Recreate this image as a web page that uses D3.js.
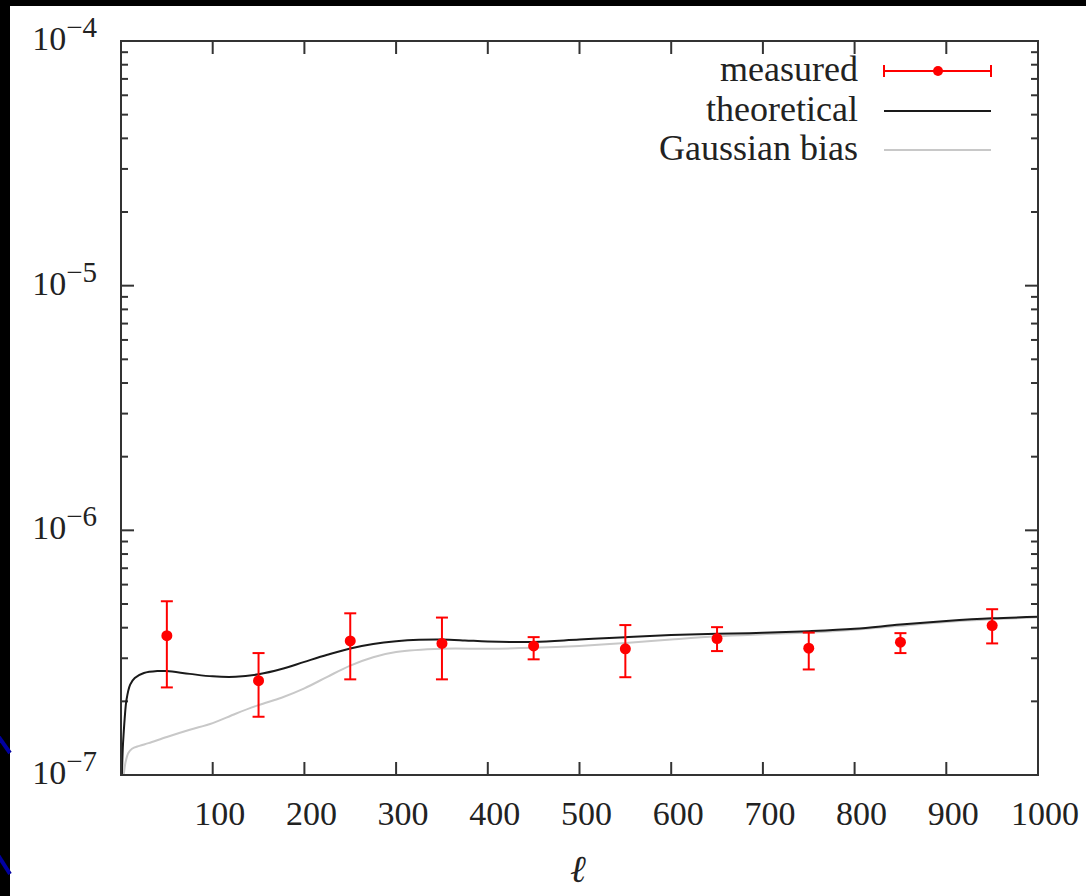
<!DOCTYPE html>
<html>
<head>
<meta charset="utf-8">
<script src="https://cdn.jsdelivr.net/npm/d3@7"></script>
<style>
  html, body { margin: 0; padding: 0; background: #000; }
  svg { display: block; }
  svg text { font-family: 'Liberation Serif', 'DejaVu Serif', serif; fill: #222; }
</style>
</head>
<body>
<svg id="chart" width="1086" height="896"></svg>
<script>
// measured points (bin centres in ell)
const ells = [50, 150, 250, 350, 450, 550, 650, 750, 850, 950]
const measured = [3.71e-7, 2.43e-7, 3.53e-7, 3.45e-7, 3.37e-7, 3.28e-7, 3.61e-7, 3.30e-7, 3.49e-7, 4.08e-7]
const errLow = [2.28e-7, 1.73e-7, 2.46e-7, 2.46e-7, 2.97e-7, 2.51e-7, 3.21e-7, 2.70e-7, 3.15e-7, 3.45e-7]
const errHigh = [5.13e-7, 3.15e-7, 4.58e-7, 4.40e-7, 3.66e-7, 4.10e-7, 4.02e-7, 3.82e-7, 3.80e-7, 4.76e-7]

// theoretical curve
const theoEll = [1, 2, 3, 4, 6, 10, 15, 25, 40, 50, 75, 100, 125, 150, 175, 200, 225, 250, 275, 300, 325, 350, 375, 400, 450, 500, 550, 600, 650, 700, 750, 800, 850, 900, 950, 1000]
const theoVal = [1.0, 1.3, 1.5, 1.7, 2.03, 2.34, 2.49, 2.61, 2.66, 2.66, 2.59, 2.53, 2.52, 2.58, 2.71, 2.90, 3.10, 3.29, 3.43, 3.52, 3.57, 3.58, 3.55, 3.51, 3.50, 3.58, 3.66, 3.73, 3.78, 3.81, 3.87, 3.96, 4.12, 4.26, 4.37, 4.43].map(v => v * 1e-7)

// Gaussian bias curve
const gaussEll = [3, 5, 8, 12, 20, 30, 50, 75, 100, 125, 150, 175, 200, 225, 250, 275, 300, 350, 400, 450, 500, 550, 600, 650, 700, 750, 800, 850, 900, 950, 1000]
const gaussVal = [1.0, 1.13, 1.23, 1.28, 1.315, 1.35, 1.43, 1.53, 1.63, 1.78, 1.93, 2.07, 2.26, 2.52, 2.80, 3.03, 3.18, 3.28, 3.28, 3.31, 3.37, 3.46, 3.58, 3.69, 3.76, 3.82, 3.92, 4.07, 4.22, 4.33, 4.41].map(v => v * 1e-7)

const xTicks = [100, 200, 300, 400, 500, 600, 700, 800, 900, 1000]
const yDecades = [-7, -6, -5, -4]

const W = 1086, H = 896
const mLeft = 121, mRight = 1038, mTop = 41, mBottom = 775
const ink = '#333'

const svg = d3.select('#chart')

// fond noir + zone blanche (capture d'une diapo)
svg.append('rect').attr('width', W).attr('height', H).attr('fill', '#000')
svg.append('rect').attr('x', 10).attr('y', 6).attr('width', W - 10).attr('height', H - 6).attr('fill', '#fff')
// petits traits bleus de la diapo, à gauche
svg.append('line').attr('x1', -2).attr('y1', 736).attr('x2', 10).attr('y2', 753)
  .attr('stroke', '#0000a0').attr('stroke-width', 4)
svg.append('line').attr('x1', -2).attr('y1', 855).attr('x2', 10).attr('y2', 874)
  .attr('stroke', '#0000a0').attr('stroke-width', 4)

const x = d3.scaleLinear().domain([0, 1000]).range([mLeft, mRight])
const y = d3.scaleLog().domain([1e-7, 1e-4]).range([mBottom, mTop])

svg.append('clipPath').attr('id', 'clip')
  .append('rect').attr('x', mLeft).attr('y', mTop).attr('width', mRight - mLeft).attr('height', mBottom - mTop)

// --- ticks (all four sides, inward) ---
const ticks = svg.append('g').attr('stroke', ink).attr('stroke-width', 2)
xTicks.forEach(t => {
  ticks.append('line').attr('x1', x(t)).attr('x2', x(t)).attr('y1', mBottom).attr('y2', mBottom - 13)
  ticks.append('line').attr('x1', x(t)).attr('x2', x(t)).attr('y1', mTop).attr('y2', mTop + 13)
})
for (let e = -7; e < -4; e++) {
  for (let m = 1; m < 10; m++) {
    const v = m * Math.pow(10, e)
    const len = m === 1 ? 13 : 7
    if (m === 1 && e === -7) continue
    ticks.append('line').attr('x1', mLeft).attr('x2', mLeft + len).attr('y1', y(v)).attr('y2', y(v))
    ticks.append('line').attr('x1', mRight).attr('x2', mRight - len).attr('y1', y(v)).attr('y2', y(v))
  }
}

// --- tick labels ---
svg.append('g').selectAll('text').data(xTicks).join('text')
  .attr('x', d => x(d) + 7)
  .attr('y', 825)
  .attr('text-anchor', 'middle')
  .attr('font-size', 34)
  .text(d => d)

const yl = svg.append('g').selectAll('text').data(yDecades).join('text')
  .attr('x', 97)
  .attr('y', d => y(Math.pow(10, d)) + 9)
  .attr('text-anchor', 'end')
yl.append('tspan').attr('font-size', 34).text('10')
yl.append('tspan').attr('font-size', 29).attr('dy', -13).text(d => '\u2212' + Math.abs(d))

// x axis title
svg.append('text')
  .attr('x', 578).attr('y', 882)
  .attr('text-anchor', 'middle')
  .attr('font-style', 'italic')
  .attr('font-size', 38)
  .text('\u2113')

// --- curves ---
const plot = svg.append('g').attr('clip-path', 'url(#clip)')
const line = d3.line().x(d => x(d[0])).y(d => y(d[1])).curve(d3.curveCatmullRom.alpha(0.5))

plot.append('path')
  .datum(gaussEll.map((l, i) => [l, gaussVal[i]]))
  .attr('d', line)
  .attr('fill', 'none').attr('stroke', '#c8c8c8').attr('stroke-width', 2)

plot.append('path')
  .datum(theoEll.map((l, i) => [l, theoVal[i]]))
  .attr('d', line)
  .attr('fill', 'none').attr('stroke', '#1a1a1a').attr('stroke-width', 2)

// --- measured points with error bars ---
const pts = ells.map((l, i) => ({ l, v: measured[i], lo: errLow[i], hi: errHigh[i] }))
const red = '#ff0000'
const eb = plot.append('g').attr('stroke', red).attr('stroke-width', 2)
pts.forEach(p => {
  eb.append('line').attr('x1', x(p.l)).attr('x2', x(p.l)).attr('y1', y(p.lo)).attr('y2', y(p.hi))
  eb.append('line').attr('x1', x(p.l) - 6).attr('x2', x(p.l) + 6).attr('y1', y(p.lo)).attr('y2', y(p.lo))
  eb.append('line').attr('x1', x(p.l) - 6).attr('x2', x(p.l) + 6).attr('y1', y(p.hi)).attr('y2', y(p.hi))
})
plot.append('g').selectAll('circle').data(pts).join('circle')
  .attr('cx', d => x(d.l)).attr('cy', d => y(d.v)).attr('r', 5.5).attr('fill', red)

// --- frame ---
svg.append('rect')
  .attr('x', mLeft).attr('y', mTop).attr('width', mRight - mLeft).attr('height', mBottom - mTop)
  .attr('fill', 'none').attr('stroke', ink).attr('stroke-width', 2)

// --- legend ---
const legend = [
  { label: 'measured', y: 71 },
  { label: 'theoretical', y: 111 },
  { label: 'Gaussian bias', y: 150 }
]
const lx1 = 884, lx2 = 991
svg.append('g').selectAll('text').data(legend).join('text')
  .attr('x', 858).attr('y', d => d.y + 10)
  .attr('text-anchor', 'end')
  .attr('font-size', 36)
  .text(d => d.label)

const lg = svg.append('g')
lg.append('line').attr('x1', lx1).attr('x2', lx2).attr('y1', 71).attr('y2', 71).attr('stroke', red).attr('stroke-width', 2)
lg.append('line').attr('x1', lx1).attr('x2', lx1).attr('y1', 65).attr('y2', 77).attr('stroke', red).attr('stroke-width', 2)
lg.append('line').attr('x1', lx2).attr('x2', lx2).attr('y1', 65).attr('y2', 77).attr('stroke', red).attr('stroke-width', 2)
lg.append('circle').attr('cx', 938).attr('cy', 71).attr('r', 5).attr('fill', red)
lg.append('line').attr('x1', lx1).attr('x2', lx2).attr('y1', 111).attr('y2', 111).attr('stroke', '#1a1a1a').attr('stroke-width', 2)
lg.append('line').attr('x1', lx1).attr('x2', lx2).attr('y1', 150).attr('y2', 150).attr('stroke', '#c8c8c8').attr('stroke-width', 2)
</script>
</body>
</html>
